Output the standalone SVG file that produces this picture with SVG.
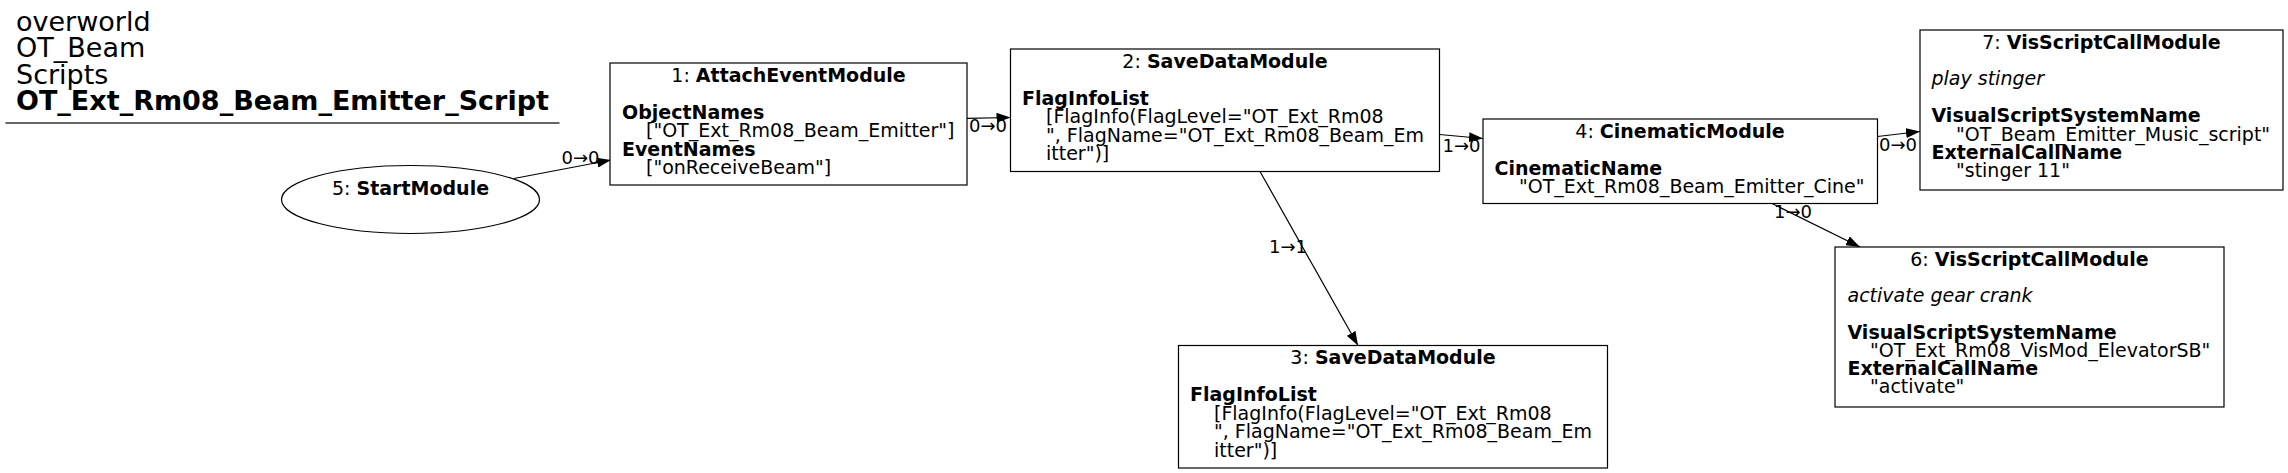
<svg xmlns="http://www.w3.org/2000/svg" width="2288" height="473" viewBox="0 0 2288 473">
<style>
text { font-family: "DejaVu Sans", Verdana, sans-serif; fill: #000; }
.t { font-size: 27px; }
.n { font-size: 19px; }
.el { font-size: 18px; }
.b { font-weight: bold; }
.i { font-style: italic; }
.box { fill: #fff; stroke: #000; stroke-width: 1.2; }
.edge { stroke: #000; stroke-width: 1.2; fill: none; marker-end: url(#arr); }
</style>
<defs>
<marker id="arr" viewBox="0 0 14 10" refX="14" refY="5" markerWidth="14" markerHeight="10" orient="auto" markerUnits="userSpaceOnUse">
<path d="M0,0 L14,5 L0,10 z" fill="#000"/>
</marker>
</defs>
<rect width="2288" height="473" fill="#fff"/>
<g id="title">
<text class="t" x="16" y="30.5">overworld</text>
<text class="t" x="16" y="57">OT_Beam</text>
<text class="t" x="16" y="83.5">Scripts</text>
<text class="t b" x="16" y="110">OT_Ext_Rm08_Beam_Emitter_Script</text>
<line x1="5.5" y1="123" x2="559.5" y2="123" stroke="#333" stroke-width="1.5"/>
</g>
<g id="connectors">
<line class="edge" x1="514" y1="178.5" x2="611" y2="160"/>
<text class="el" x="561.5" y="164">0→0</text>
<line class="edge" x1="967" y1="118.3" x2="1010.5" y2="117.5"/>
<text class="el" x="969" y="131.5">0→0</text>
<line class="edge" x1="1439.5" y1="134.5" x2="1483" y2="138.5"/>
<text class="el" x="1442.5" y="151.5">1→0</text>
<line class="edge" x1="1877.5" y1="136.5" x2="1920" y2="131.5"/>
<text class="el" x="1879" y="151">0→0</text>
<line class="edge" x1="1772" y1="203.5" x2="1860" y2="247"/>
<text class="el" x="1774" y="218">1→0</text>
<line class="edge" x1="1260" y1="171.5" x2="1358" y2="345.5"/>
<text class="el" x="1269" y="253">1→1</text>
</g>
<g id="node5">
<ellipse cx="410.5" cy="199.5" rx="129" ry="34" fill="#fff" stroke="#000" stroke-width="1.2"/>
<text class="n" x="410.5" y="195" text-anchor="middle">5: <tspan class="b">StartModule</tspan></text>
</g>
<g id="node1">
<rect class="box" x="610" y="63" width="357" height="122"/>
<text class="n" x="788.5" y="81.5" text-anchor="middle">1: <tspan class="b">AttachEventModule</tspan></text>
<text class="n b" x="622" y="118.5">ObjectNames</text>
<text class="n" x="646" y="137">["OT_Ext_Rm08_Beam_Emitter"]</text>
<text class="n b" x="622" y="155.5">EventNames</text>
<text class="n" x="646" y="174">["onReceiveBeam"]</text>
</g>
<g id="node2">
<rect class="box" x="1010.5" y="49" width="429" height="122.5"/>
<text class="n" x="1225" y="67.5" text-anchor="middle">2: <tspan class="b">SaveDataModule</tspan></text>
<text class="n b" x="1022" y="104.5">FlagInfoList</text>
<text class="n" x="1046" y="123">[FlagInfo(FlagLevel="OT_Ext_Rm08</text>
<text class="n" x="1046" y="141.5">", FlagName="OT_Ext_Rm08_Beam_Em</text>
<text class="n" x="1046" y="160">itter")]</text>
</g>
<g id="node3">
<rect class="box" x="1178.5" y="345.5" width="429" height="122.5"/>
<text class="n" x="1393" y="364" text-anchor="middle">3: <tspan class="b">SaveDataModule</tspan></text>
<text class="n b" x="1190" y="401">FlagInfoList</text>
<text class="n" x="1214" y="419.5">[FlagInfo(FlagLevel="OT_Ext_Rm08</text>
<text class="n" x="1214" y="438">", FlagName="OT_Ext_Rm08_Beam_Em</text>
<text class="n" x="1214" y="456.5">itter")]</text>
</g>
<g id="node4">
<rect class="box" x="1483" y="119" width="394.5" height="84.5"/>
<text class="n" x="1680" y="137.5" text-anchor="middle">4: <tspan class="b">CinematicModule</tspan></text>
<text class="n b" x="1494.5" y="174.5">CinematicName</text>
<text class="n" x="1519" y="193">"OT_Ext_Rm08_Beam_Emitter_Cine"</text>
</g>
<g id="node7">
<rect class="box" x="1920" y="30" width="363" height="160"/>
<text class="n" x="2101.5" y="48.5" text-anchor="middle">7: <tspan class="b">VisScriptCallModule</tspan></text>
<text class="n i" x="1931.5" y="85">play stinger</text>
<text class="n b" x="1931.5" y="122">VisualScriptSystemName</text>
<text class="n" x="1956" y="140.5">"OT_Beam_Emitter_Music_script"</text>
<text class="n b" x="1931.5" y="159">ExternalCallName</text>
<text class="n" x="1956" y="177">"stinger 11"</text>
</g>
<g id="node6">
<rect class="box" x="1835" y="247" width="389" height="160"/>
<text class="n" x="2029.5" y="265.5" text-anchor="middle">6: <tspan class="b">VisScriptCallModule</tspan></text>
<text class="n i" x="1847.5" y="301.5">activate gear crank</text>
<text class="n b" x="1847.5" y="338.5">VisualScriptSystemName</text>
<text class="n" x="1870" y="356.5">"OT_Ext_Rm08_VisMod_ElevatorSB"</text>
<text class="n b" x="1847.5" y="375">ExternalCallName</text>
<text class="n" x="1870" y="393">"activate"</text>
</g>
</svg>
